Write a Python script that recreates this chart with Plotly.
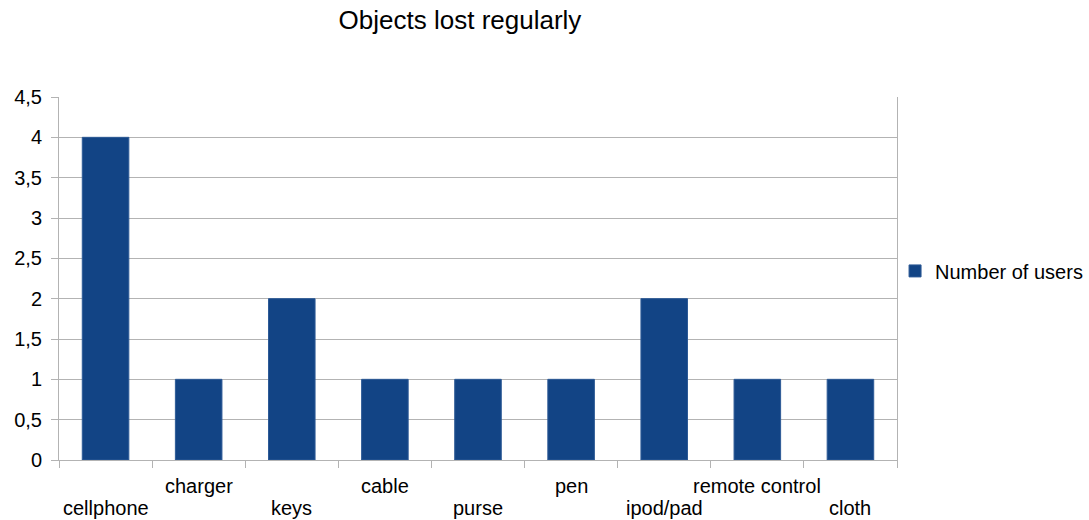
import plotly.graph_objects as go

# Objects lost regularly - number of users per object
categories = ["cellphone", "charger", "keys", "cable", "purse", "pen",
              "ipod/pad", "remote control", "cloth"]
users = [4, 1, 2, 1, 1, 1, 2, 1, 1]
y_ticks = [0, 0.5, 1, 1.5, 2, 2.5, 3, 3.5, 4, 4.5]

FONT = "Liberation Sans, Arial, sans-serif"
BAR = "#124485"
GRID = "#b3b3b3"
SIZE = 20

fig = go.Figure()
fig.add_trace(go.Bar(
    x=categories,
    y=users,
    name="Number of users",
    marker=dict(color=BAR, line=dict(color="#2d5a96", width=1)),
))

# Category labels alternate between two rows so long names do not collide
for i, c in enumerate(categories):
    fig.add_annotation(
        x=c, xref="x", y=0, yref="paper",
        text=c, showarrow=False,
        xanchor="center", yanchor="middle",
        yshift=-48 if i % 2 == 0 else -26,
        font=dict(family=FONT, size=SIZE, color="#000000"),
    )

fig.update_layout(
    width=1089,
    height=520,
    margin=dict(l=59, r=192, t=97, b=60, autoexpand=False),
    paper_bgcolor="white",
    plot_bgcolor="white",
    separators=",.",
    font=dict(family=FONT, size=SIZE, color="#000000"),
    title=dict(text="Objects lost regularly", x=0.4224, xanchor="center",
               y=0.962, yanchor="middle",
               font=dict(family=FONT, size=26, color="#000000")),
    bargap=0.5,
    showlegend=True,
    legend=dict(xref="container", x=0.8219, xanchor="left",
                yref="container", y=0.479, yanchor="middle",
                font=dict(family=FONT, size=SIZE), bgcolor="rgba(0,0,0,0)",
                itemwidth=30),
    xaxis=dict(
        type="category",
        tickvals=categories,
        showticklabels=False,
        tickson="boundaries",
        ticks="outside",
        ticklen=7,
        tickcolor=GRID,
        showline=True,
        linecolor=GRID,
        linewidth=1,
        showgrid=False,
        automargin=False,
    ),
    yaxis=dict(
        range=[0, 4.5],
        tickvals=y_ticks,
        ticks="outside",
        ticklen=7,
        tickcolor=GRID,
        ticklabelstandoff=5,
        showline=True,
        mirror=True,
        linecolor=GRID,
        linewidth=1,
        showgrid=True,
        gridcolor=GRID,
        gridwidth=1,
        zeroline=False,
        automargin=False,
        tickfont=dict(family=FONT, size=SIZE),
    ),
)

fig.write_html("out.html")
